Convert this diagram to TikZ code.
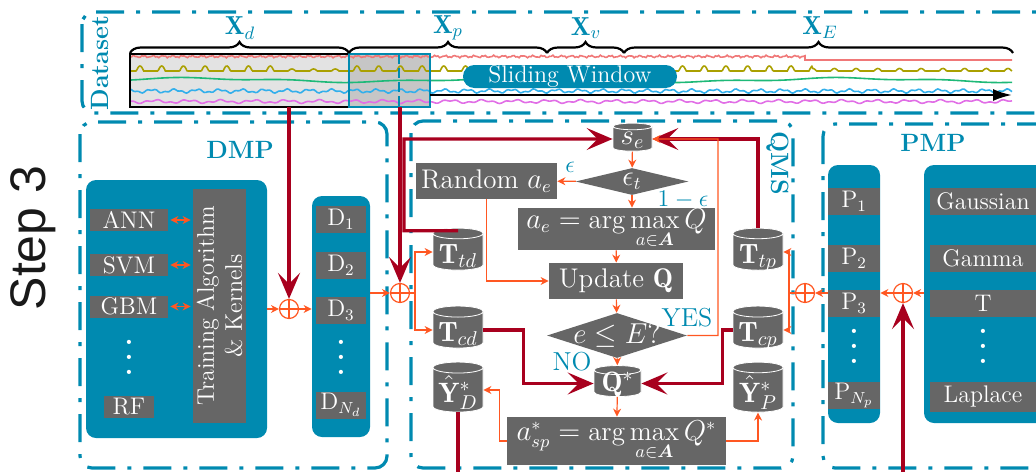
\documentclass[tikz,border=0pt]{standalone}
\usepackage{amsmath}
\usepackage{amssymb}
\usepackage{bm}
\usepackage{fontspec}
\newfontfamily\stepfont{Liberation Sans}
\usetikzlibrary{positioning,arrows.meta,shapes.geometric,decorations.pathreplacing,calc}

\definecolor{qblue}{RGB}{0,138,176}
\definecolor{boxgray}{RGB}{102,102,102}
\definecolor{flow}{RGB}{255,87,34}
\definecolor{darkred}{RGB}{168,0,30}
\definecolor{sigred}{RGB}{240,120,120}
\definecolor{sigolive}{RGB}{170,160,0}
\definecolor{siggreen}{RGB}{30,185,120}
\definecolor{sigblue}{RGB}{50,175,235}
\definecolor{sigpink}{RGB}{225,110,230}
% three spread dots
\newcommand{\onedot}{\hbox{\fontsize{7}{7}\selectfont\textbullet}}
\newcommand{\tallvdots}{\vbox{\baselineskip7.5pt\lineskiplimit0pt\onedot\onedot\onedot}}

\begin{document}
\begin{tikzpicture}[x=0.5pt, y=-0.5pt,
    font=\fontsize{12}{14}\selectfont,
    >={Stealth[length=4pt,width=4pt]},
    stage/.style={draw=qblue, line width=1.6pt, rounded corners=6pt,
                  dash pattern=on 14pt off 6pt on 2pt off 6pt},
    panel/.style={fill=qblue, rounded corners=5pt, inner sep=0pt},
    gbox/.style={fill=boxgray, text=white, inner sep=0pt, align=center},
    qbox/.style={gbox, font=\fontsize{13.5}{16}\selectfont},
    cyl/.style={cylinder, shape border rotate=90, aspect=0.28, fill=boxgray,
                draw=white, line width=0.4pt, text=white, inner sep=0pt,
                font=\fontsize{14}{16}\selectfont, text height=11pt, text depth=0pt,
                minimum width=25pt, minimum height=21pt},
    dec/.style={diamond, fill=boxgray, text=white, inner sep=0pt,
                font=\fontsize{13.5}{16}\selectfont},
    plus/.style={circle, draw=flow, line width=0.6pt, minimum size=9.5pt, inner sep=0pt,
                 path picture={\draw[flow, line width=0.6pt]
                   (path picture bounding box.north) -- (path picture bounding box.south)
                   (path picture bounding box.west) -- (path picture bounding box.east);}},
    fl/.style={draw=flow, line width=0.6pt, ->},
    mainf/.style={draw=darkred, line width=1.6pt,
                  -{Stealth[length=13pt,width=11pt,inset=5.5pt]}},
    lbl/.style={text=qblue, font=\fontsize{13}{15}\selectfont},
    ttl/.style={text=qblue, font=\fontsize{12.5}{14}\selectfont\bfseries},
    wdots/.style={text=white, inner sep=0pt},
  ]
  \clip (0,0) rectangle (1036,471);

  % ---- dataset strip
  \draw[stage] (82,12) rectangle (1080,113);
  \node[ttl, rotate=90] (dsname) at (100,63) {Dataset};
  \fill[gray!22] (130,54) rectangle (349,107);
  \fill[gray!45] (349,54) rectangle (430,107);
  % signals
  \draw[sigred, line width=0.8pt] plot[domain=130:805, samples=400]
    (\x, {56.5+0.8*sin(37*mod(\x,9.7297))+0.6*sin(91*mod(\x,3.956))}) -- (805,60) -- (1012,60);
  \draw[sigolive, line width=0.8pt] plot[domain=130:1012, samples=900]
    (\x, {71-(5-3*(\x>283)*(\x<345)-2.5*(\x>812))*max(0,2*cos(mod(\x-140,21.7)/21.7*360)-1)});
  \draw[siggreen, line width=0.8pt] plot[domain=130:1012, samples=300]
    (\x, {80+1.8*sin(1.1*\x+60)+0.8*sin(3.3*\x+40)});
  \draw[sigblue, line width=0.8pt] plot[domain=130:1012, samples=500]
    (\x, {91+1.4*sin(16*mod(\x,22.5))+0.8*sin(41*mod(\x,8.7805))});
  \draw[sigpink, line width=0.8pt] plot[domain=130:1012, samples=500]
    (\x, {101.5+1.2*sin(11*\x)+0.8*sin(29*mod(\x,12.4138))});
  \draw[black, line width=1pt] (130,54) rectangle (349,107);
  \draw[qblue, line width=1pt] (349,54) rectangle (430,107);
  \draw[qblue, line width=1pt, dash pattern=on 5pt off 2pt] (399,54) -- (399,107);
  % split braces
  \foreach \a/\b in {130/349, 349/547, 547/624, 624/1013}
    \draw[decorate, decoration={brace, amplitude=5.5pt}, line width=1.1pt] (\a,53) -- (\b,53);
  \node[lbl] (xd) at (240,28) {$\mathbf{X}_d$};
  \node[lbl] (xp) at (448,28) {$\mathbf{X}_p$};
  \node[lbl] (xv) at (586,28) {$\mathbf{X}_v$};
  \node[lbl] (xe) at (820,28) {$\mathbf{X}_E$};
  \node[fill=qblue, text=white, rounded corners=5.7pt, minimum width=107pt,
        minimum height=11.5pt, inner sep=0pt] (slide) at (570,76.5) {Sliding Window};
  \coordinate (tstart) at (430,95);
  \coordinate (tend) at (1012,95);
  \draw[line width=1.2pt, -{Latex[length=9.5pt,width=6pt]}] (tstart) -- (tend);

  \node[rotate=90, text=black!90, font=\stepfont\fontsize{25}{30}\selectfont] (step) at (33,238) {Step 3};

  % ---- stages
  \draw[stage] (80,122) rectangle (387,468);
  \draw[stage] (411,121) rectangle (793,468);
  \draw[stage] (823,124) rectangle (1080,468);
  \node[ttl] (dmp) at (240,150) {DMP};
  \node[ttl, rotate=-90] (qms) at (778,163) {QMS};
  \node[ttl] (pmp) at (933,143) {PMP};

  % ---- DMP
  \node[panel, minimum width=90.5pt, minimum height=129pt] (mpanel) at (176.5,309) {};
  \node[gbox, minimum width=39pt, minimum height=11pt] (ann) at (129,220) {ANN};
  \node[gbox, minimum width=39pt, minimum height=11pt] (svm) at (129,265) {SVM};
  \node[gbox, minimum width=39pt, minimum height=11pt] (gbm) at (129,306.5) {GBM};
  \node[wdots] (mdots) at (129,358) {\tallvdots};
  \node[gbox, minimum width=25pt, minimum height=11pt] (rf) at (129,407) {RF};
  \node[gbox, rotate=90, minimum width=117pt, minimum height=26.5pt] (train) at (219.5,306)
    {Training Algorithm\\\& Kernels};
  \foreach \m in {ann,svm,gbm}
    \draw[fl, <->, shorten <=1pt, shorten >=1pt] (\m.east) -- (\m.east -| train.north);
  \node[panel, minimum width=29pt, minimum height=120.5pt] (dcol) at (341,316.5) {};
  \node[gbox, minimum width=25pt, minimum height=13.5pt] (d1) at (341,219.5) {$\mathrm{D}_1$};
  \node[gbox, minimum width=25pt, minimum height=13.5pt] (d2) at (341,265.5) {$\mathrm{D}_2$};
  \node[gbox, minimum width=25pt, minimum height=13.5pt] (d3) at (341,310.5) {$\mathrm{D}_3$};
  \node[wdots] (ddots) at (341,358) {\tallvdots};
  \node[gbox, minimum width=25pt, minimum height=13.5pt] (dn) at (341,405) {$\mathrm{D}_{N_d}$};

  % ---- merge points
  \node[plus] (plusd) at (289,309) {};
  \node[plus] (plusq) at (400,293) {};
  \node[plus] (plusm) at (805,293) {};
  \node[plus] (plusp) at (903,293) {};
  \coordinate (tapd) at (289,107);
  \coordinate (tapq) at (400,107);
  \draw[mainf] (tapd) -- (plusd);
  \draw[mainf] (tapq) -- (plusq);
  \draw[fl] (mpanel.east |- plusd) -- (plusd);
  \draw[fl] (plusd) -- (plusd -| dcol.west);
  \draw[fl] (dcol.east |- plusq) -- (plusq);

  % ---- QMS
  \node[cyl, text height=5pt, minimum width=19.5pt, minimum height=14pt] (se) at (632.5,139) {$s_e$};
  \node[dec, minimum width=56.5pt, minimum height=13.5pt, aspect=4.2] (epst) at (632,181.5) {$\epsilon_t$};
  \node[qbox, minimum width=70.5pt, minimum height=18pt] (rand) at (486.5,181) {Random $a_e$};
  \node[qbox, minimum width=98.5pt, minimum height=21pt] (amax) at (616.5,229)
    {$a_e = \arg\max\limits_{a\in\bm{A}} Q$};
  \node[qbox, minimum width=67pt, minimum height=18pt] (upd) at (616,281) {Update $\mathbf{Q}$};
  \node[dec, inner sep=-2pt, minimum width=70pt, minimum height=22.5pt, aspect=3.1] (cond)
    at (617,335.5) {$e \leq E?$};
  \node[cyl, text height=8pt, minimum width=23.5pt, minimum height=15.5pt] (qstar) at (617.5,383.5) {$\mathbf{Q}^*$};
  \node[qbox, minimum width=109.5pt, minimum height=24pt] (asp) at (616.5,441)
    {$a^*_{sp} = \arg\max\limits_{a\in\bm{A}} Q^*$};
  \node[cyl] (ttd) at (458,252) {$\mathbf{T}_{td}$};
  \node[cyl] (tcd) at (458,330) {$\mathbf{T}_{cd}$};
  \node[cyl, text height=12pt, minimum height=25pt] (yd) at (458,390) {$\hat{\mathbf{Y}}^*_D$};
  \node[cyl] (ttp) at (758,252) {$\mathbf{T}_{tp}$};
  \node[cyl] (tcp) at (758,330) {$\mathbf{T}_{cp}$};
  \node[cyl, text height=12pt, minimum height=25pt] (yp) at (758,390) {$\hat{\mathbf{Y}}^*_P$};
  \node[lbl] (leps) at (570,167) {$\epsilon$};
  \node[lbl] (lneps) at (683,200) {$1-\epsilon$};
  \node[lbl] (lyes) at (687,318) {YES};
  \node[lbl] (lno) at (572,362) {NO};
  % flow
  \draw[fl] (se) -- (epst);
  \draw[fl] (epst) -- (rand);
  \draw[fl] (epst.south) -- (epst.south |- amax.north);
  \draw[fl] (amax) -- (upd);
  \draw[fl] (upd) -- (cond);
  \draw[fl] (cond) -- (qstar);
  \draw[fl] (qstar) -- (asp);
  \draw[fl] (rand.south) |- (upd.west);
  \coordinate (lpass) at (404,139);
  \coordinate (ypass) at (718,139);
  \draw[mainf] ($(ttd.north)+(0,3)$) -| (lpass) -- (se.west);
  \draw[mainf] (ttp.north) |- (se.east);
  \draw[fl] (cond.east) -| (ypass) -- (se.east);
  \draw[mainf] (tcd.east) -- ++(40,0) |- (qstar.west);
  \draw[mainf] (tcp.west) -- ++(-10,0) |- (qstar.east);
  \draw[fl] (asp.west) -- ++(-7,0) |- (yd.east);
  \draw[fl] (asp.east) -| (yp.south);
  \coordinate (ydout) at (458,480);
  \draw[darkred, line width=1.6pt] (yd.south) -- (ydout);
  \coordinate (qfork) at (415,293);
  \draw[fl] (plusq.east) -- (qfork) |- (ttd.west);
  \draw[fl] (qfork) |- (tcd.west);
  \coordinate (pfork) at (789,293);
  \draw[fl] (plusm.west) -- (pfork) |- (ttp.east);
  \draw[fl] (pfork) |- (tcp.east);

  % ---- PMP
  \node[panel, minimum width=26pt, minimum height=129pt] (pcol) at (854,294) {};
  \node[gbox, minimum width=26pt, minimum height=13.5pt] (p1) at (854,201.5) {$\mathrm{P}_1$};
  \node[gbox, minimum width=26pt, minimum height=13.5pt] (p2) at (854,258.5) {$\mathrm{P}_2$};
  \node[gbox, minimum width=26pt, minimum height=13.5pt] (p3) at (854,303.5) {$\mathrm{P}_3$};
  \node[wdots] (pdots) at (854,347) {\tallvdots};
  \node[gbox, minimum width=26pt, minimum height=13.5pt] (pn) at (854,395.5) {$\mathrm{P}_{N_p}$};
  \node[panel, minimum width=88pt, minimum height=129pt] (dist) at (1012,294) {};
  \node[gbox, minimum width=53pt, minimum height=13.5pt] (gau) at (983,201.5) {Gaussian};
  \node[gbox, minimum width=53pt, minimum height=13.5pt] (gam) at (983,258.5) {Gamma};
  \node[gbox, minimum width=53pt, minimum height=13.5pt] (tdist) at (983,303.5) {T};
  \node[wdots] (gdots) at (983,347) {\tallvdots};
  \node[gbox, minimum width=53pt, minimum height=15pt] (lap) at (983,396.5) {Laplace};
  \draw[fl] (dist.west |- plusp) -- (plusp);
  \draw[fl] (plusp) -- (plusp -| pcol.east);
  \draw[fl] (pcol.west |- plusm) -- (plusm);
  \coordinate (pin) at (903,480);
  \draw[mainf] (pin) -- (plusp);
\end{tikzpicture}
\end{document}
